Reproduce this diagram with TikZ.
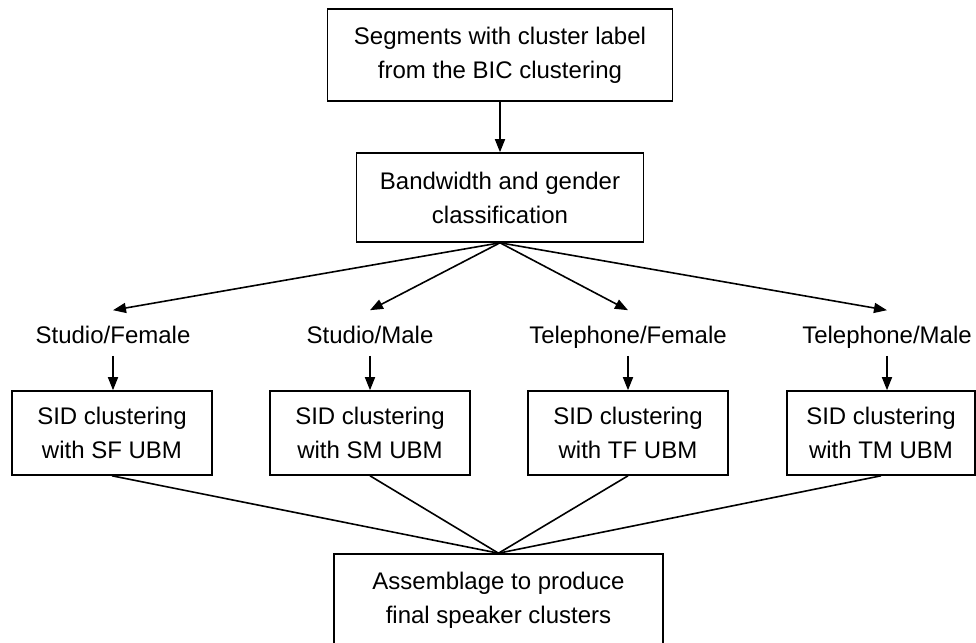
\documentclass[tikz,border=0pt]{standalone}
\usepackage{fontspec}
\setmainfont{Liberation Sans}
\usetikzlibrary{arrows.meta}
\begin{document}
\begin{tikzpicture}[x=0.5pt, y=-0.5pt, line width=0.8pt,
    box/.style={draw, align=center, inner sep=0pt, font=\fontsize{12}{17}\selectfont},
    sid/.style={box, minimum width=100pt, minimum height=42pt},
    lbl/.style={inner xsep=0pt, inner ysep=5pt, text height=11pt, text depth=1pt, font=\fontsize{12}{17}\selectfont},
    arr/.style={-{Triangle[length=6.5pt,width=5pt]}}]
    \useasboundingbox (0,0) rectangle (976,643);
    \clip (0,0) rectangle (976,643);

    % input and classification
    \node[box, minimum width=172.5pt, minimum height=46pt] (seg) at (500,55) {Segments with cluster label\\from the BIC clustering};
    \node[box, minimum width=143.5pt, minimum height=44.5pt] (bw) at (500,197.5) {Bandwidth and gender\\classification};
    \draw[arr] (seg) -- (bw);

    % classes
    \node[lbl] (sf) at (113,333) {Studio/Female};
    \node[lbl] (sm) at (370,333) {Studio/Male};
    \node[lbl] (tf) at (628,333) {Telephone/Female};
    \node[lbl] (tm) at (887,333) {Telephone/Male};
    \foreach \l in {sf,sm,tf,tm} \draw[arr] (bw.south) -- (\l.north);

    % SID clustering
    \node[sid] (sfbox) at (112,433) {SID clustering\\with SF UBM};
    \node[sid] (smbox) at (370,433) {SID clustering\\with SM UBM};
    \node[sid] (tfbox) at (628,433) {SID clustering\\with TF UBM};
    \node[sid, minimum width=94pt] (tmbox) at (881,433) {SID clustering\\with TM UBM};
    \draw[arr] (sf.south) -- (sf.south |- sfbox.north);
    \draw[arr] (sm.south) -- (sm.south |- smbox.north);
    \draw[arr] (tf.south) -- (tf.south |- tfbox.north);
    \draw[arr] (tm.south) -- (tm.south |- tmbox.north);

    % assemblage
    \node[box, minimum width=164.5pt, minimum height=46.5pt] (asm) at (498.5,600.5) {Assemblage to produce\\final speaker clusters};
    \foreach \b in {sfbox,smbox,tfbox,tmbox} \draw (\b.south) -- (asm.north);
\end{tikzpicture}
\end{document}
